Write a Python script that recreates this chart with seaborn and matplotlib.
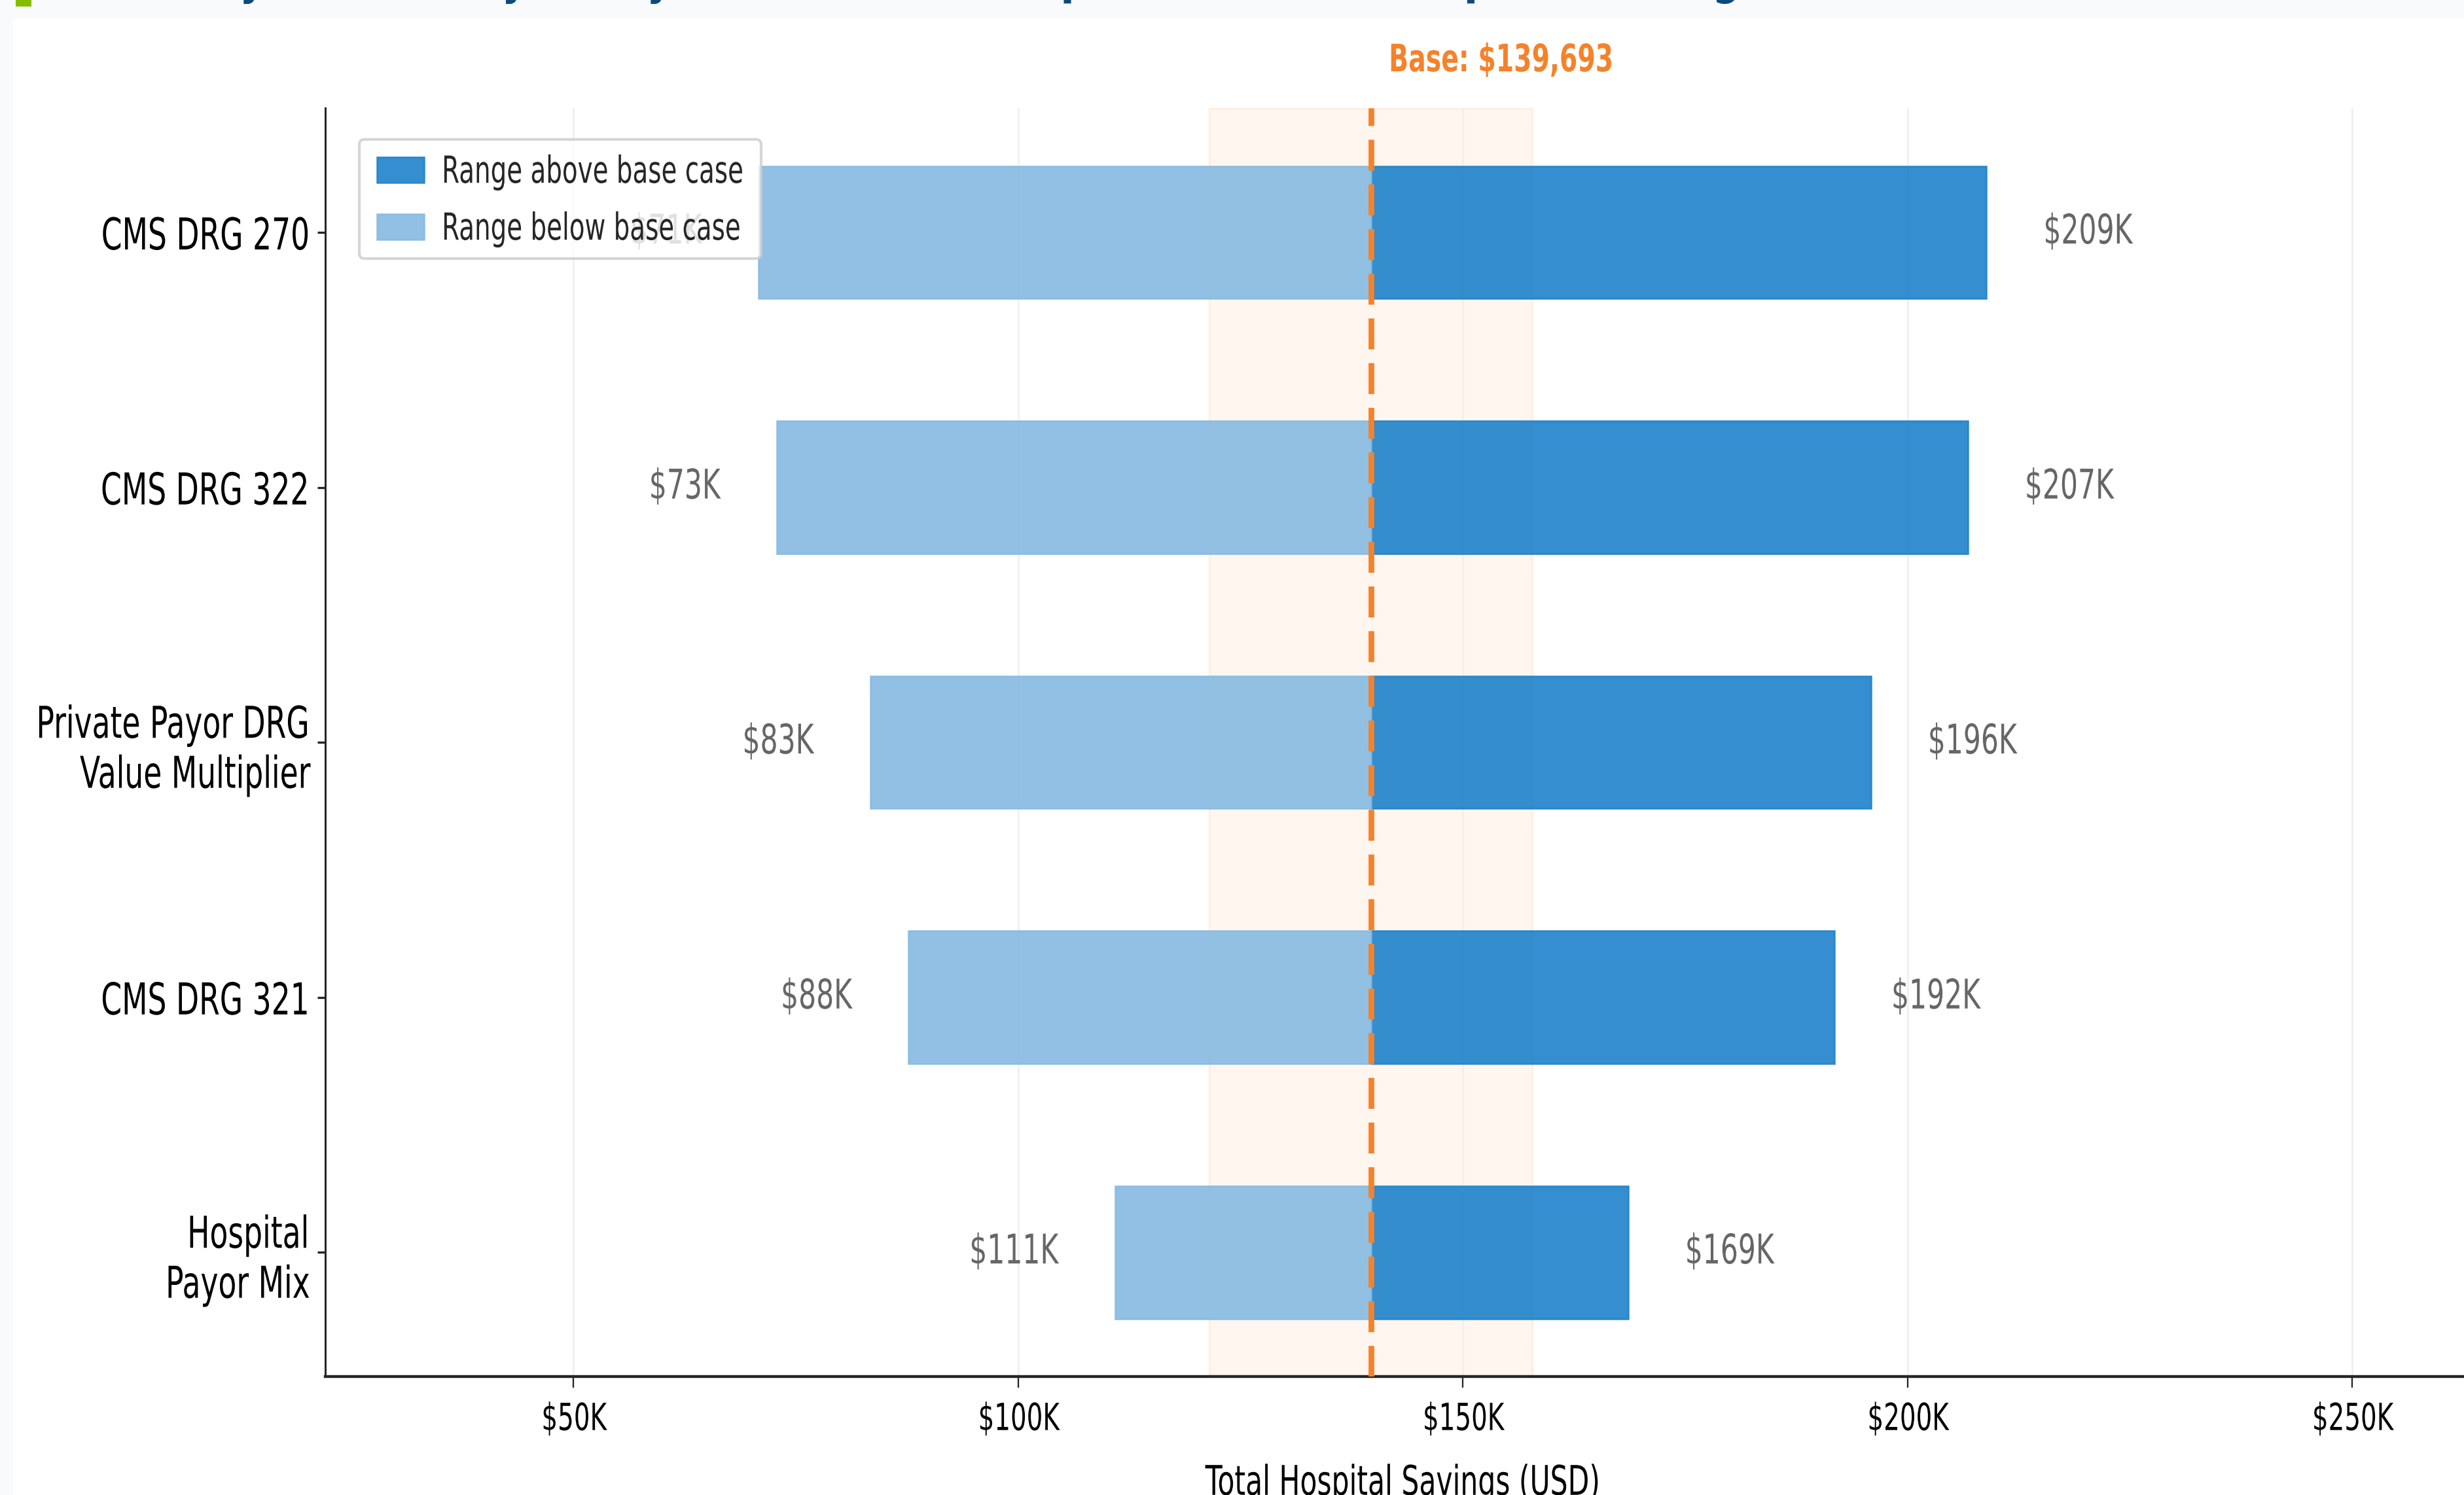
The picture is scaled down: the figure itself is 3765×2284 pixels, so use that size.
import matplotlib
matplotlib.use('Agg')
import matplotlib.pyplot as plt
import seaborn as sns
from matplotlib.patheffects import AbstractPathEffect
from matplotlib.transforms import Affine2D, blended_transform_factory
from matplotlib.patches import Rectangle

# data
params = ['CMS DRG 270', 'CMS DRG 322', 'Private Payor DRG\nValue Multiplier',
          'CMS DRG 321', 'Hospital\nPayor Mix']
low_vals = [70800, 72900, 83400, 87700, 110900]
high_vals = [208900, 206800, 195900, 191800, 168600]
base_value = 139693
band_low, band_high = 121500, 157900
xticks = [50000, 100000, 150000, 200000, 250000]
xtick_labels = ['$50K', '$100K', '$150K', '$200K', '$250K']
title = 'One-Way Sensitivity Analysis (OWSA) \u2014 Impact on Total Hospital Savings'

blue = '#1e82ca'
light_blue = '#86bae1'
orange = '#f5822a'
SQ = 0.68  # the reference image is stretched vertically, so glyphs look narrow


class Squash(AbstractPathEffect):
    """scale the glyphs of a text in place, keeping the aligned edge fixed"""

    def __init__(self, sx=1.0, sy=1.0, ha='left'):
        super().__init__()
        self.sx, self.sy, self.ha = sx, sy, ha

    def draw_path(self, renderer, gc, tpath, affine, rgbFace=None):
        if len(tpath.vertices) == 0:
            return
        ext = tpath.get_extents()
        pivot = {'left': 0.0, 'center': (ext.x0 + ext.x1) / 2, 'right': ext.x1}[self.ha]
        # 36.5 = middle of the cap height (text paths use 100 units per em)
        t = Affine2D().translate(-pivot, -36.5).scale(self.sx, self.sy).translate(pivot, 36.5)
        renderer.draw_path(gc, tpath, t + affine, rgbFace)


sns.set_theme(style='ticks')
plt.rcParams['font.family'] = ['DejaVu Sans']

W, H = 3765, 2284
fig = plt.figure(figsize=(W / 300, H / 300), dpi=300, facecolor='#f8fafc')
fig.patches.append(Rectangle((20 / W, 0), 1, 1 - 28 / H, transform=fig.transFigure,
                             facecolor='white', edgecolor='none', zorder=-1))
fig.patches.append(Rectangle((24 / W, 1 - 10 / H), 24 / W, 0.02, transform=fig.transFigure,
                             facecolor='#84bd00', edgecolor='none', zorder=-1))
t = fig.text(93 / W, 1 + 14 / H, title, fontsize=22.3, fontweight='bold',
             color='#0b4a7d', ha='left', va='baseline')
t.set_path_effects([Squash(sx=SQ)])

ax = fig.add_axes([497 / W, (H - 2103) / H, 3294 / W, 1938 / H])

ax.axvspan(band_low, band_high, color=orange, alpha=0.07, zorder=0.2)

sns.barplot(x=[h - base_value for h in high_vals], y=params, orient='h', left=base_value,
            color=blue, saturation=1, alpha=0.9, width=0.52, edgecolor=blue, linewidth=0.6,
            errorbar=None, label='Range above base case', zorder=2, ax=ax)
sns.barplot(x=[l - base_value for l in low_vals], y=params, orient='h', left=base_value,
            color=light_blue, saturation=1, alpha=0.9, width=0.52, edgecolor=light_blue,
            linewidth=0.6, errorbar=None, label='Range below base case', zorder=2, ax=ax)

ax.axvline(base_value, color=orange, lw=2.1, ls=(0, (5.4, 2.4)), zorder=4)

off = 6400
for i, (lo, hi) in enumerate(zip(low_vals, high_vals)):
    a = ax.text(lo - off, i, f'${lo / 1000:.0f}K', ha='right', va='center',
                fontsize=15, color='#666666', zorder=3)
    a.set_path_effects([Squash(sx=SQ, ha='right')])
    b = ax.text(hi + off, i, f'${hi / 1000:.0f}K', ha='left', va='center',
                fontsize=15, color='#666666', zorder=3)
    b.set_path_effects([Squash(sx=SQ, ha='left')])

bt = ax.text(base_value + 2000, 1.0289, f'Base: ${base_value:,.0f}',
             transform=blended_transform_factory(ax.transData, ax.transAxes),
             ha='left', va='baseline', fontsize=13.9, fontweight='bold', color=orange)
bt.set_path_effects([Squash(sx=SQ, ha='left')])

ax.set_xlim(22100, 264500)
ax.set_ylim(4.487, -0.488)
ax.set_xticks(xticks)
ax.set_xticklabels(xtick_labels)
ax.set_ylabel('')
ax.set_xlabel('Total Hospital Savings (USD)', fontsize=15, labelpad=9.6, color='black')
ax.xaxis.label.set_path_effects([Squash(sx=SQ, ha='center')])

ax.tick_params(axis='x', length=4.1, width=0.55, pad=5.2, labelsize=13.7, labelcolor='black')
ax.tick_params(axis='y', length=2.9, width=0.8, pad=2.6, labelsize=16.1, labelcolor='black')
for lab in ax.get_xticklabels():
    lab.set_path_effects([Squash(sx=SQ, ha='center')])
for lab in ax.get_yticklabels():
    lab.set_path_effects([Squash(sx=SQ, ha='right')])

ax.grid(axis='x', color='#efefef', lw=0.65)
ax.set_axisbelow(True)
sns.despine(ax=ax)
ax.spines['left'].set_linewidth(0.72)
ax.spines['bottom'].set_linewidth(1.06)

leg = ax.legend(loc='upper left', bbox_to_anchor=(52 / 3294, 1 - 48 / 1938), borderaxespad=0,
                fontsize=13.7 * SQ, handlelength=1.85, handleheight=1.15, labelspacing=1.2,
                borderpad=0.7, handletextpad=0.7, frameon=True, fancybox=True)
for lt in leg.get_texts():
    lt.set_path_effects([Squash(sy=1 / SQ)])

fig.savefig('out.png', dpi=300, facecolor=fig.get_facecolor())
